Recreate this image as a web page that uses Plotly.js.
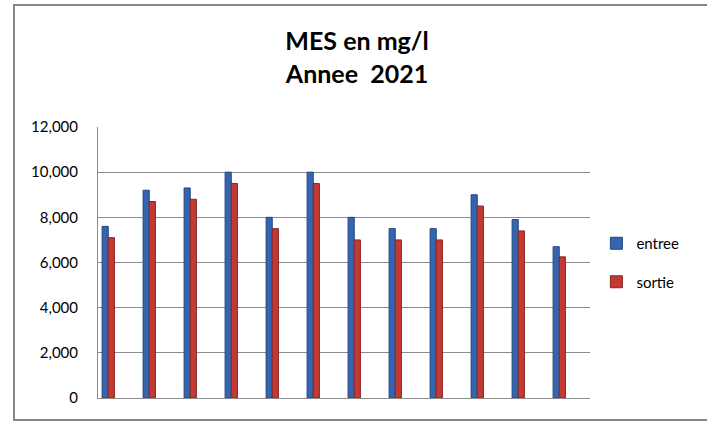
<!DOCTYPE html>
<html><head><meta charset="utf-8">
<script src="https://cdn.plot.ly/plotly-3.0.1.min.js"></script>
<style>html,body{margin:0;padding:0;background:#fff;}
#wrap{position:relative;width:707px;height:425px;overflow:hidden;}
#chart{width:707px;height:425px;}
#frame{position:absolute;z-index:50;left:13px;top:4px;width:720px;height:413px;border:2px solid #878787;pointer-events:none;}
</style>
</head><body><div id="wrap"><div id="chart"></div><div id="frame"></div></div>
<script>
const categories = ["1","2","3","4","5","6","7","8","9","10","11","12"];
const entree = [7600, 9200, 9300, 10000, 8000, 10000, 8000, 7500, 7500, 9000, 7900, 6700];
const sortie = [7100, 8700, 8800, 9500, 7500, 9500, 7000, 7000, 7000, 8500, 7400, 6250];
const seriesNames = ["entree", "sortie"];
const yTicks = [0, 2000, 4000, 6000, 8000, 10000, 12000];

const font = "Lato, 'Open Sans', sans-serif";
const traces = [
  {type:"bar", name:seriesNames[0], legendgroup:"a", x:categories, y:entree, width:0.15, offset:-0.40,
   marker:{color:"#3465B0", line:{color:"#22477F", width:1}}},
  {type:"bar", name:seriesNames[1], legendgroup:"b", x:categories, y:sortie, width:0.15, offset:-0.25,
   marker:{color:"#C23A33", line:{color:"#8A2420", width:1}}}
];
const layout = {
  width:707, height:425,
  margin:{l:98, r:117, t:127, b:27, pad:0},
  paper_bgcolor:"#fff", plot_bgcolor:"#fff",
  title:{text:"<b>MES en mg/l</b><br><b>Annee  2021</b>", x:0.505, xanchor:"center", y:0.882, yanchor:"top",
         font:{family:font, size:25, color:"#000"}},
  showlegend:true,
  legend:{x:1.013, y:0.50, xanchor:"left", yanchor:"middle", font:{family:font, size:15, color:"#000"},
          traceorder:"grouped", tracegroupgap:16, itemwidth:30, bgcolor:"rgba(0,0,0,0)"},
  xaxis:{type:"category", showticklabels:false, showgrid:false, zeroline:false,
         showline:true, linecolor:"#8c8c8c", linewidth:1, ticks:"", fixedrange:true},
  yaxis:{range:[0,12000], tickvals:yTicks, tickformat:",d", showgrid:true, gridcolor:"#8c8c8c", gridwidth:1,
         zeroline:false, showline:true, linecolor:"#8c8c8c", linewidth:1, ticks:"",
         ticklabelstandoff:16, tickfont:{family:font, size:15, color:"#000"}},
  bargap:0, bargroupgap:0
};
Plotly.newPlot("chart", traces, layout, {displayModeBar:false, staticPlot:true});
</script></body></html>
